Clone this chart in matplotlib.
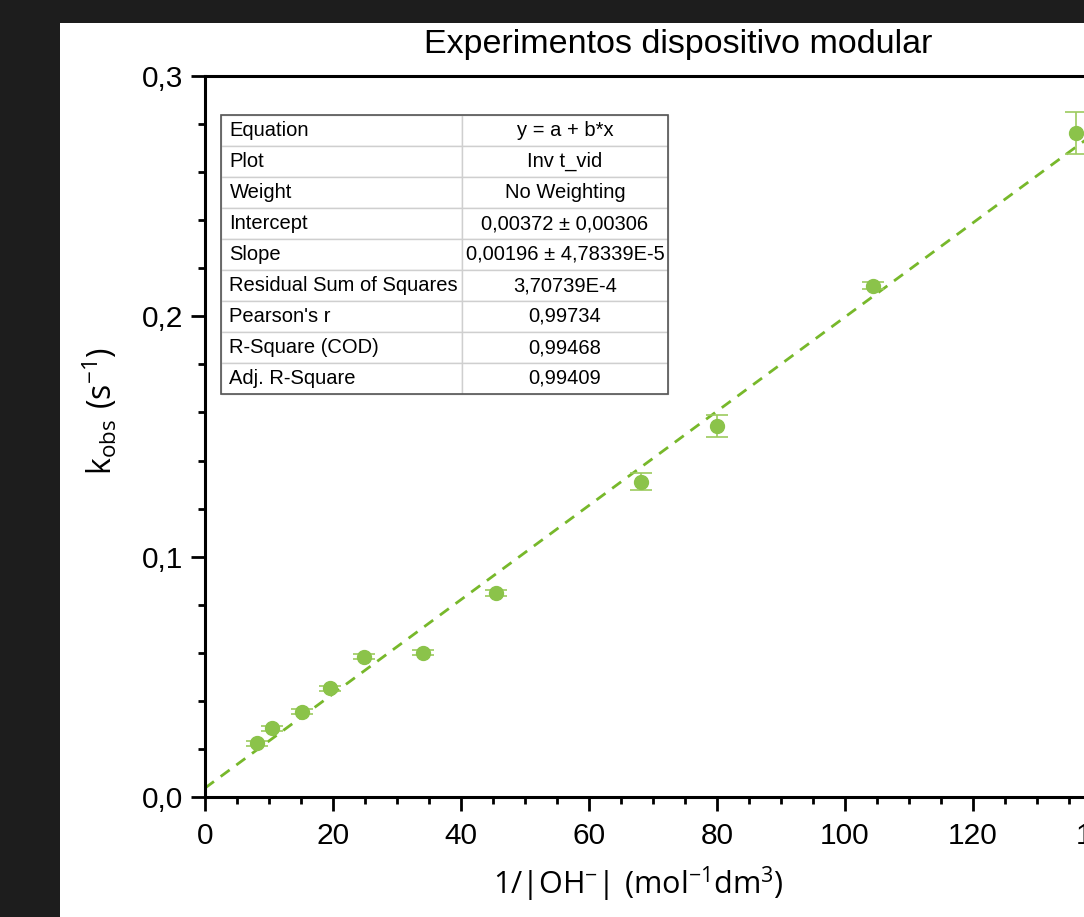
import matplotlib
matplotlib.use("Agg")
import matplotlib.pyplot as plt
from matplotlib.patches import Rectangle
from matplotlib.ticker import MultipleLocator, FuncFormatter

# data
x_inv_oh = [8.1, 10.5, 15.2, 19.5, 24.8, 34.1, 45.4, 68.1, 80.0, 104.4, 136.1]
k_obs = [0.0224, 0.0286, 0.0355, 0.0452, 0.0584, 0.0600, 0.0848, 0.1312, 0.1544, 0.2127, 0.2763]
k_err = [0.0010, 0.0010, 0.0010, 0.0010, 0.0010, 0.0010, 0.0012, 0.0035, 0.0045, 0.0015, 0.0087]

# linear fit from the report table
intercept = 0.00372
slope = 0.00196

table_keys = ["Equation", "Plot", "Weight", "Intercept", "Slope",
              "Residual Sum of Squares", "Pearson's r", "R-Square (COD)", "Adj. R-Square"]
table_vals = ["y = a + b*x", "Inv t_vid", "No Weighting", "0,00372 \u00b1 0,00306",
              "0,00196 \u00b1 4,78339E-5", "3,70739E-4", "0,99734", "0,99468", "0,99409"]

W, H = 1084, 917
plt.rcParams['font.family'] = ['Liberation Sans', 'DejaVu Sans']
plt.rcParams['mathtext.fontset'] = 'custom'
plt.rcParams['mathtext.rm'] = 'Open Sans'

fig = plt.figure(figsize=(W / 100, H / 100), dpi=100, facecolor='#1d1d1d')

# white page behind the plot
fig.patches.append(Rectangle((60 / W, 0), 1 - 60 / W, 1 - 23 / H, transform=fig.transFigure,
                             facecolor='white', edgecolor='none', zorder=-5))

# axes run past the right edge like the cropped original
ax = fig.add_axes([205 / W, 120 / H, 960 / W, 721 / H], zorder=2)
ax.set_xlim(0, 150)
ax.set_ylim(0, 0.3)

xs = [0, 150]
ax.plot(xs, [intercept + slope * v for v in xs], ls=(0, (4, 3)), color='#77b82a', lw=2, zorder=2)
ax.errorbar(x_inv_oh, k_obs, yerr=k_err, fmt='o', ms=10, color='#8bc34a', mec='#8bc34a',
            ecolor='#9ccb5e', elinewidth=1.2, capsize=8, capthick=1.2, zorder=3)

for s in ['left', 'bottom', 'top']:
    ax.spines[s].set_linewidth(2.2)
ax.spines['right'].set_visible(False)

ax.xaxis.set_major_locator(MultipleLocator(20))
ax.xaxis.set_minor_locator(MultipleLocator(5))
ax.yaxis.set_major_locator(MultipleLocator(0.1))
ax.yaxis.set_minor_locator(MultipleLocator(0.02))
ax.yaxis.set_major_formatter(FuncFormatter(lambda v, p: f"{v:.1f}".replace('.', ',')))
ax.tick_params(which='major', direction='out', length=10, width=2, labelsize=21.5, pad=6)
ax.tick_params(axis='x', which='major', pad=8)
ax.tick_params(which='minor', direction='out', length=5, width=2)
ax.tick_params(top=False, right=False)

# fit report table
tab = ax.table(cellText=[[k, v] for k, v in zip(table_keys, table_vals)],
               colWidths=[241 / 447, 206 / 447],
               bbox=[16 / 960, (797 - 394) / 721, 447 / 960, 279 / 721], zorder=5)
tab.auto_set_font_size(False)
for (r, c), cell in tab.get_celld().items():
    cell.set_edgecolor('#cfcfcf')
    cell.set_linewidth(1)
    cell.set_facecolor('white')
    cell.get_text().set_fontsize(14.5)
    if c == 0:
        cell.PAD = 0.035
        cell.set_text_props(ha='left')
    else:
        cell.set_text_props(ha='center')
ax.add_patch(Rectangle((16 / 960, (797 - 394) / 721), 447 / 960, 279 / 721, transform=ax.transAxes,
                       fill=False, edgecolor='#555555', lw=1.2, zorder=6))

fig.text(678 / W, 1 - 45 / H, "Experimentos dispositivo modular", ha='center', va='center', fontsize=24.5)
fig.text(638 / W, 1 - 884 / H, r"$\mathregular{1/|OH^{-}|\ (mol^{-1}dm^{3})}$",
         ha='center', va='center', fontsize=22, family='Open Sans')
fig.text(100 / W, 1 - 411 / H, r"$\mathregular{k_{obs}\ (s^{-1})}$", rotation=90,
         ha='center', va='center', fontsize=23, family='Open Sans')

fig.savefig("out.png", dpi=100, facecolor=fig.get_facecolor())
